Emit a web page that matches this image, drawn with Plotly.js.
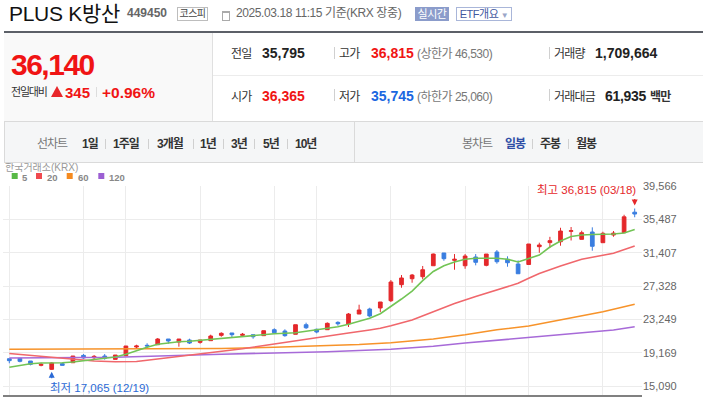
<!DOCTYPE html>
<html><head><meta charset="utf-8">
<script src="https://cdn.plot.ly/plotly-3.0.1.min.js"></script>
<style>
html,body{margin:0;padding:0;width:703px;height:399px;overflow:hidden;background:#fff;}
body{font-family:"Liberation Sans","Noto Sans CJK KR",sans-serif;}
#chart{position:absolute;left:0;top:0;width:703px;height:399px;z-index:1;}
.h{position:absolute;z-index:2;}
.t{position:absolute;z-index:3;white-space:nowrap;}
.b{font-weight:bold;}
.lab{font-size:12px;line-height:12px;color:#333;letter-spacing:-0.8px;}
.num{font-size:14px;line-height:14px;font-weight:bold;color:#222;}
.gry{font-size:12px;line-height:12px;color:#777;letter-spacing:-0.5px;}
.tb{font-size:12px;line-height:12px;color:#333;font-weight:bold;letter-spacing:-1px;top:138px;}
.sep{position:absolute;z-index:3;width:1px;background:#d0d0d0;}
</style>
</head><body>
<!-- header -->
<div class="t" style="left:9px;top:2.5px;font-size:21px;line-height:21px;color:#111;letter-spacing:-0.3px;">PLUS K방산</div>
<div class="t b" style="left:127px;top:7px;font-size:12px;line-height:12px;color:#666;">449450</div>
<div class="t" style="left:177px;top:7px;width:29px;height:12px;border:1px solid #bdbdbd;font-size:10px;line-height:12px;color:#444;text-align:center;letter-spacing:-0.5px;">코스피</div>
<div class="h" style="left:222px;top:11px;width:6px;height:7px;border:1px solid #aaa;border-top:2px solid #aaa;"></div>
<div class="t" style="left:236px;top:6.5px;font-size:12px;line-height:12px;color:#666;letter-spacing:-0.4px;">2025.03.18 11:15 기준(KRX 장중)</div>
<div class="t" style="left:415px;top:7px;width:34px;height:14px;background:#8b9ccb;color:#fff;font-size:11px;line-height:14px;text-align:center;letter-spacing:-0.5px;">실시간</div>
<div class="t" style="left:456px;top:7px;width:54px;height:12px;border:1px solid #a9b6d9;color:#43589e;font-size:11px;line-height:12px;text-align:center;letter-spacing:-0.5px;">ETF개요 <span style="color:#9aa6c8;font-size:8px;">▼</span></div>
<div class="h" style="left:4px;top:31px;width:699px;height:2px;background:#5c6068;"></div>
<div class="h" style="left:4px;top:33px;width:208px;height:88px;background:#f9f9f9;"></div>
<div class="h" style="left:212px;top:33px;width:1px;height:88px;background:#e0e0e0;"></div>
<div class="h" style="left:213px;top:75px;width:490px;height:1px;background:#ececec;"></div>

<div class="t b" style="left:11px;top:49.6px;font-size:30px;line-height:30px;color:#f01414;letter-spacing:-1.5px;">36,140</div>
<div class="t" style="left:11px;top:86.7px;font-size:11px;line-height:11px;color:#333;letter-spacing:-1.2px;">전일대비</div>
<div class="h" style="left:51px;top:86px;width:0;height:0;border-left:6px solid transparent;border-right:6px solid transparent;border-bottom:11px solid #e8272b;z-index:3;"></div>
<div class="t b" style="left:65px;top:85px;font-size:15px;line-height:15px;color:#f01414;">345</div>
<div class="sep" style="left:96px;top:87px;height:10px;background:#ddd;"></div>
<div class="t b" style="left:102px;top:84.6px;font-size:15.5px;line-height:15.5px;color:#f01414;">+0.96%</div>

<div class="t lab" style="left:231px;top:48px;">전일</div>
<div class="t num" style="left:262px;top:46.4px;">35,795</div>
<div class="sep" style="left:334px;top:47px;height:12px;"></div>
<div class="t lab" style="left:339px;top:48px;">고가</div>
<div class="t num" style="left:371px;top:46.4px;color:#f01414;">36,815</div>
<div class="t gry" style="left:417px;top:48px;">(상한가 46,530)</div>
<div class="sep" style="left:549px;top:47px;height:12px;"></div>
<div class="t lab" style="left:554px;top:48px;">거래량</div>
<div class="t num" style="left:595px;top:46.4px;">1,709,664</div>

<div class="t lab" style="left:231px;top:90.5px;">시가</div>
<div class="t num" style="left:262px;top:88.8px;color:#f01414;">36,365</div>
<div class="sep" style="left:334px;top:89px;height:12px;"></div>
<div class="t lab" style="left:339px;top:90.5px;">저가</div>
<div class="t num" style="left:371px;top:88.8px;color:#1a66e0;">35,745</div>
<div class="t gry" style="left:417px;top:90.5px;">(하한가 25,060)</div>
<div class="sep" style="left:549px;top:89px;height:12px;"></div>
<div class="t lab" style="left:554px;top:90.5px;">거래대금</div>
<div class="t num" style="left:605px;top:88.8px;letter-spacing:-0.3px;">61,935</div>
<div class="t lab b" style="left:650px;top:90.5px;color:#333;">백만</div>

<!-- toolbar -->
<div class="h" style="left:4px;top:121px;width:698px;height:40px;background:#f5f6f7;border:1px solid #dadada;border-right:none;"></div>
<div class="h" style="left:354px;top:122px;width:1px;height:40px;background:#dadada;z-index:3;"></div>
<div class="t tb" style="left:37px;font-weight:normal;color:#777;">선차트</div>
<div class="t tb" style="left:82px;">1일</div>
<div class="sep" style="left:105px;top:139px;height:10px;"></div>
<div class="t tb" style="left:113px;">1주일</div>
<div class="sep" style="left:148px;top:139px;height:10px;"></div>
<div class="t tb" style="left:157px;">3개월</div>
<div class="sep" style="left:193px;top:139px;height:10px;"></div>
<div class="t tb" style="left:200px;">1년</div>
<div class="sep" style="left:223px;top:139px;height:10px;"></div>
<div class="t tb" style="left:231px;">3년</div>
<div class="sep" style="left:254px;top:139px;height:10px;"></div>
<div class="t tb" style="left:263px;">5년</div>
<div class="sep" style="left:287px;top:139px;height:10px;"></div>
<div class="t tb" style="left:295px;">10년</div>
<div class="t tb" style="left:462px;font-weight:normal;color:#777;">봉차트</div>
<div class="t tb" style="left:505px;color:#2f4ea6;">일봉</div>
<div class="sep" style="left:532px;top:139px;height:10px;"></div>
<div class="t tb" style="left:540px;">주봉</div>
<div class="sep" style="left:568px;top:139px;height:10px;"></div>
<div class="t tb" style="left:576px;">월봉</div>

<div id="chart"></div>
<script>
// ---- data ----
const dates = ['12/13','12/16','12/17','12/18','12/19','12/20','12/23','12/24','12/26','12/27','12/30',
 '01/02','01/03','01/06','01/07','01/08','01/09','01/10','01/13','01/14','01/15','01/16','01/17','01/20','01/21','01/22','01/23','01/24','01/31',
 '02/03','02/04','02/05','02/06','02/07','02/10','02/11','02/12','02/13','02/14','02/17','02/18','02/19','02/20','02/21','02/24','02/25','02/26','02/27','02/28',
 '03/04','03/05','03/06','03/07','03/10','03/11','03/12','03/13','03/14','03/17','03/18'];
const open  = [18430,18480,18150,17620,17130,17820,17940,18840,18550,18760,18350,
 18800,19860,20070,20140,20840,20470,20720,20430,20640,21290,21580,21290,21370,21250,21980,21820,21420,22590,
 22030,21980,22880,22680,23900,24510,24640,25530,27490,28220,28470,29810,31370,30470,29810,30880,29860,31490,30600,30020,
 29960,32140,32640,32750,34020,33040,33940,32630,33570,33850,36365];
const high  = [18430,18500,18150,17940,18000,17940,18760,19000,18880,19000,18880,
 19985,20140,20320,20960,20840,20840,20880,20720,21370,21660,21580,21580,21370,21860,22150,22030,22590,22840,
 22110,22880,23010,24020,25040,24670,25370,28060,28670,28800,29780,31300,31370,31240,31240,31240,31240,31730,30960,30470,
 32470,32630,33350,34460,34550,34100,34510,33970,34060,36050,36815];
const low   = [17870,17990,17620,17500,17065,17600,17940,18430,18390,18310,18350,
 18800,19620,19740,20140,20270,19900,20230,20270,20640,21120,21050,21090,20880,21250,21610,21120,21420,22070,
 21540,21980,22470,22310,23900,23500,24150,25370,27120,27730,28150,29810,30420,29320,29440,29860,29740,30060,29690,28830,
 29960,31400,32000,32260,32900,33040,31650,32630,33360,33850,35745];
const close = [18190,18110,17740,17740,17900,17620,18760,18520,18720,18480,18880,
 19985,19985,19990,20840,20600,20840,20350,20720,21210,21540,21370,21420,21120,21860,21610,21250,22590,22220,
 21700,22760,22710,23900,24390,23660,25370,27820,28310,28670,29320,31240,30670,30600,31000,30230,31240,30300,30180,28830,
 32470,32350,32880,34060,34100,33850,32190,33780,33810,35795,36140];
const ma5 = [17378,17623,17819,17905,17905,17941,18027,18186,18308,18455,18639,
 18969,19410,19826,20193,20389,20511,20560,20683,20805,20940,21087,21172,21246,21368,21490,21539,21613,21784,
 21943,22151,22347,22641,23008,23375,23938,24795,25737,26716,27977,29103,29812,30265,30596,30718,30718,30718,30596,30265,
 30693,31122,32101,32835,33386,33569,33631,33655,33692,33814,34242];
const ma20Dates = ['12/13','12/17','12/19','12/23','12/26','12/30','01/02','01/03','01/06','01/07','01/08','01/09','01/10','01/13','01/14','01/15','01/17','01/22','01/31','02/04','02/06','02/10','02/11','02/12','02/14','02/18','02/20','02/24','02/26','02/28','03/04','03/05','03/07','03/11','03/13','03/14','03/18'];
const ma20 = [19067,18823,18578,18333,18149,18064,18039,18088,18235,18394,18553,18725,18884,19067,19251,19373,19655,20230,20842,21209,21576,21943,22151,22469,23167,24183,25186,26043,26838,27658,28270,28858,29776,30596,31085,31330,32223];
const ma60Dates = ['12/13','12/30','01/15','01/22','02/03','02/07','02/12','02/18','02/21','02/26','03/04','03/07','03/13','03/18'];
const ma60 = [19581,19618,19679,19826,19985,20169,20389,20842,21356,21968,22433,23167,24183,25088];
const ma120Dates = ['12/13','12/30','01/15','02/04','02/12','02/18','02/21','03/04','03/14','03/18'];
const ma120 = [18517,18602,18982,19288,19594,19949,20352,21001,21943,22347];
const gridDates = ['12/13','12/24','01/02','01/13','01/22','02/03','02/12','02/21','03/04','03/13'];
const yTicks = [15090,19169,23249,27328,31407,35487,39566];
const maNames = ['5','20','60','120'];

// ---- styling ----
const RED='#e4282b', BLUE='#3a7ee0';
const maColors=['#72c455','#f0676c','#f7932a','#a76ad8'];
const legColors=['#58b947','#ef4a4f','#f58a1f','#9c5fd3'];
const idx = d => dates.indexOf(d);
const X = dates.map((d,i)=>i);
const fmt = v => v.toLocaleString('en-US');

// plot area in px
const L=3,R=642,T=186,B=395;
const xp = px => (px-L)/(R-L);
const yp = py => (B-py)/(B-T);

const traces = [
 {type:'scatter',mode:'lines',x:ma120Dates.map(idx),y:ma120,line:{color:maColors[3],width:1.6},hoverinfo:'skip'},
 {type:'scatter',mode:'lines',x:ma60Dates.map(idx),y:ma60,line:{color:maColors[2],width:1.6},hoverinfo:'skip'},
 {type:'scatter',mode:'lines',x:ma20Dates.map(idx),y:ma20,line:{color:maColors[1],width:1.6},hoverinfo:'skip'},
 {type:'scatter',mode:'lines',x:X,y:ma5,line:{color:maColors[0],width:1.6},hoverinfo:'skip'},
 {type:'candlestick',x:X,open:open,high:high,low:low,close:close,whiskerwidth:0,
  increasing:{line:{color:RED,width:1},fillcolor:RED},
  decreasing:{line:{color:BLUE,width:1},fillcolor:BLUE},hoverinfo:'skip'}
];

const hiV=Math.max(...high), hiI=high.indexOf(hiV);
const loV=Math.min(...low), loI=low.indexOf(loV);
const F='"Liberation Sans","Noto Sans CJK KR",sans-serif';

const annotations=[
 {xref:'paper',yref:'paper',x:xp(3),y:yp(167.5),xanchor:'left',yanchor:'middle',showarrow:false,text:'한국거래소(KRX)',font:{family:F,size:10,color:'#999'}},
 {xref:'paper',yref:'paper',x:xp(638),y:yp(190),xanchor:'right',yanchor:'middle',showarrow:false,
  text:'최고 '+fmt(hiV)+' ('+dates[hiI]+')',font:{family:F,size:11.5,color:'#e5282b'}},
 {xref:'x',yref:'y',x:hiI,y:hiV,text:'',showarrow:true,ax:0,ay:-11,standoff:3,arrowhead:2,arrowsize:1,arrowwidth:1.2,arrowcolor:'#e5282b'},
 {xref:'paper',yref:'paper',x:xp(48),y:yp(388),xanchor:'left',yanchor:'middle',showarrow:false,
  text:'최저 '+fmt(loV)+' ('+dates[loI]+')',font:{family:F,size:11.5,color:'#2b6ad6'}},
 {xref:'x',yref:'y',x:loI,y:loV,text:'',showarrow:true,ax:0,ay:10,standoff:2,arrowhead:2,arrowsize:1,arrowwidth:1.2,arrowcolor:'#2b6ad6'}
];
const legX=[[11.7,20.7],[36,46],[66.7,76.7],[98.3,108]];
const shapes=[];
maNames.forEach((n,k)=>{
  shapes.push({type:'rect',xref:'paper',yref:'paper',x0:xp(legX[k][0]),x1:xp(legX[k][0]+6),y0:yp(179),y1:yp(173),fillcolor:legColors[k],line:{width:0}});
  annotations.push({xref:'paper',yref:'paper',x:xp(legX[k][1]-1),y:yp(177),xanchor:'left',yanchor:'middle',showarrow:false,text:'<b>'+n+'</b>',font:{family:F,size:9.5,color:'#888'}});
});

const layout={
 width:703,height:399,margin:{l:L,r:703-R,t:T,b:399-B,pad:0},
 paper_bgcolor:'rgba(0,0,0,0)',plot_bgcolor:'#fff',showlegend:false,
 boxgap:0.5,
 xaxis:{type:'linear',range:[(L-9.3)/10.6,(R-9.3)/10.6],tickvals:gridDates.map(idx),showticklabels:false,ticks:'',
  showgrid:true,gridcolor:'#ececec',gridwidth:1,zeroline:false,showline:true,linecolor:'#808080',linewidth:2,
  rangeslider:{visible:false},fixedrange:true},
 yaxis:{range:[39566-(B-T)*122.38,39570],side:'right',tickvals:yTicks,ticktext:yTicks.map(fmt),ticks:'',
  tickfont:{family:'"Liberation Sans",sans-serif',size:11,color:'#666'},gridcolor:'#ececec',gridwidth:1,
  zeroline:false,showline:false,fixedrange:true},
 annotations:annotations,shapes:shapes,font:{family:F}
};
Plotly.newPlot('chart',traces,layout,{staticPlot:true,displayModeBar:false});
</script>
</body></html>
